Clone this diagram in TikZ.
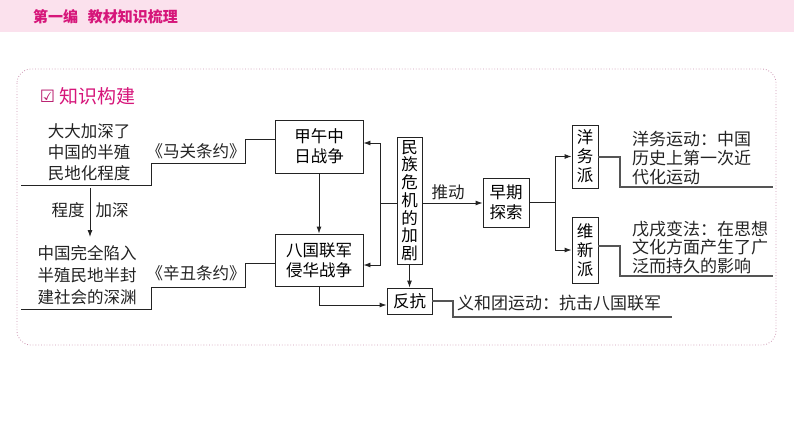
\documentclass[tikz,border=0pt]{standalone}
\usepackage{fontspec}
\setmainfont{Noto Sans CJK SC}
\newfontfamily\symfont{DejaVu Sans}
\usetikzlibrary{arrows.meta}
\definecolor{hdrpink}{RGB}{251,225,237}
\definecolor{magent}{RGB}{214,22,122}
\definecolor{framec}{RGB}{205,150,178}
\definecolor{ink}{RGB}{35,35,35}
\definecolor{uline}{RGB}{85,85,85}
\newcommand\dfont{\fontsize{16.5}{20}\selectfont}
\begin{document}
\begin{tikzpicture}[x=1pt,y=-1pt,
  box/.style={draw=ink, line width=0.9pt, inner sep=0pt, align=center, font=\dfont},
  lbl/.style={inner sep=0pt, align=center, font=\dfont, text=ink},
  lbll/.style={inner sep=0pt, align=left, font=\dfont, text=ink, anchor=west},
  conn/.style={draw=ink, line width=0.9pt},
  arr/.style={conn, -{Latex[length=7pt,width=5pt]}},
  ul/.style={draw=uline, line width=1.3pt}]
\useasboundingbox (0,0) rectangle (794,447);
% header
\fill[hdrpink] (0,0) rectangle (794,31.5);
\node[anchor=west, inner sep=0pt, text=magent, font=\fontsize{15}{15}\selectfont\bfseries] (hd) at (33,17) {第一编\hspace{0.65em}教材知识梳理};
% frame
\draw[framec, dotted, line width=0.8pt, rounded corners=14pt] (17,69) rectangle (776,345);
\node[inner sep=0pt, text=magent!85!black, font=\symfont\fontsize{17}{17}\selectfont] (cb) at (47.5,96.5) {☑};
\node[anchor=west, inner sep=0pt, text=magent, font=\fontsize{19}{19}\selectfont] (kt) at (59,96) {知识构建};

% boxes
\node[box, minimum width=88pt, minimum height=53pt] (jw) at (319,146.5) {甲午中\\日战争};
\node[box, minimum width=88pt, minimum height=52pt] (bg) at (319,260) {八国联军\\侵华战争};
\node[box, minimum width=25pt, minimum height=127pt, font=\fontsize{16.5}{17.7}\selectfont] (mz) at (409.5,200.5) {民\\族\\危\\机\\的\\加\\剧};
\node[box, minimum width=45pt, minimum height=26pt] (fk) at (409.5,301) {反抗};
\node[box, minimum width=46pt, minimum height=49pt] (zq) at (506,202.5) {早期\\探索};
\node[box, minimum width=26pt, minimum height=63pt, font=\fontsize{16.5}{19}\selectfont] (yw) at (585,156.5) {洋\\务\\派};
\node[box, minimum width=26pt, minimum height=66pt, font=\fontsize{16.5}{19}\selectfont] (wx) at (585,250) {维\\新\\派};

% texts
\node[lbl, font=\fontsize{16.5}{21}\selectfont] (t1) at (89,152) {大大加深了\\中国的半殖\\民地化程度};
\node[lbl, font=\fontsize{16.5}{22}\selectfont] (t2) at (87,275) {中国完全陷入\\半殖民地半封\\建社会的深渊};
\node[lbl] (mg) at (196,151) {《马关条约》};
\node[lbl] (xc) at (196,273) {《辛丑条约》};
\node[lbl] (cd) at (68,210) {程度};
\node[lbl] (js) at (112,210) {加深};
\node[lbl] (td) at (448,192) {推动};
\node[lbll, font=\fontsize{17}{19}\selectfont] (yh) at (457,303) {义和团运动：抗击八国联军};
\node[lbll, font=\fontsize{17}{19}\selectfont] (ywt) at (632,158) {洋务运动：中国\\历史上第一次近\\代化运动};
\node[lbll, font=\fontsize{17}{18.5}\selectfont] (wxt) at (632,247) {戊戌变法：在思想\\文化方面产生了广\\泛而持久的影响};

% free ends
\coordinate (e1) at (21,185);
\coordinate (e2) at (21,309);
\coordinate (a1) at (90,188);
\coordinate (a2) at (90,237);
\coordinate (e3) at (672,317);
\coordinate (e4) at (773,187);
\coordinate (e5) at (773,276);

% staircases on the left
\draw[conn] ([yshift=7.5pt]jw.west) -- (245,139) -- (245,163) -- (151,163) -- (151,185) -- (e1);
\draw[conn] ([yshift=-3pt]bg.west) -- (245,263) -- (245,287) -- (151,287) -- (151,309) -- (e2);
\draw[arr] (a1) -- (a2);

% middle
\draw[arr] (jw.south) -- (bg.north);
\draw[conn] ([yshift=-2.5pt]mz.west) -- (380,203);
\draw[arr] (380,203) |- ([yshift=3.5pt]jw.east);
\draw[arr] (380,203) |- ([yshift=-5pt]bg.east);
\draw[arr] (mz.south) -- (fk.north);
\draw[arr] (bg.south) |- ([yshift=-4pt]fk.west);
\draw[ul] (fk.east) -- (453,301) -- (453,317) -- (e3);

% right
\draw[arr] ([yshift=-2.5pt]mz.east) -- ([yshift=-0.5pt]zq.west);
\draw[conn] (zq.east) -- (555,202.5);
\draw[arr] (555,202.5) |- (yw.west);
\draw[arr] (555,202.5) |- (wx.west);
\draw[ul] ([yshift=-0.5pt]yw.east) -- (620,157) -- (620,187) -- (e4);
\draw[ul] ([yshift=4pt]wx.east) -- (620,246) -- (620,276) -- (e5);
\end{tikzpicture}
\end{document}
